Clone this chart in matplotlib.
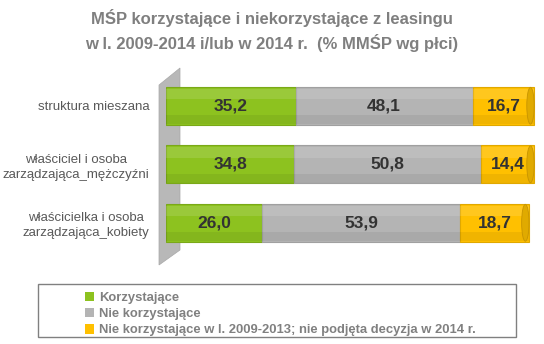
import numpy as np
import matplotlib.pyplot as plt
from matplotlib.patches import Rectangle, Polygon, Patch, Ellipse

plt.rcParams['font.family'] = ['Liberation Sans', 'DejaVu Sans']

categories = ['struktura mieszana',
              'właściciel i osoba\nzarządzająca_mężczyźni',
              'właścicielka i osoba\nzarządzająca_kobiety']
korzystajace = [35.2, 34.8, 26.0]
nie_korzystajace = [48.1, 50.8, 53.9]
nie_2014 = [16.7, 14.4, 18.7]
series_names = ['Korzystające', 'Nie korzystające',
                'Nie korzystające w l. 2009-2013; nie podjęta decyzja w 2014 r.']
colors = ['#8dc21f', '#b4b4b4', '#ffc000']
edges = ['#7aa818', '#a0a0a0', '#e0a800']

fig = plt.figure(figsize=(5.44, 3.44), dpi=100)
fig.patch.set_facecolor('white')

# skewed grey "wall" behind the category axis
W, H = 544, 344
wall = Polygon([[159/W, 1-265/H], [159/W, 1-85/H], [180/W, 1-68/H],
                [180/W, 1-250/H]], closed=True, transform=fig.transFigure,
               facecolor='#b8b8b8', edgecolor='#a8a8a8', linewidth=0.5, zorder=-1)
fig.patches.append(wall)

ax = fig.add_axes([166/W, 1-252/H, 370/W, 175.5/H])
ax.set_facecolor('none')
y = np.arange(len(categories))
left = np.zeros(len(categories))
data = [korzystajace, nie_korzystajace, nie_2014]
for vals, c, ec in zip(data, colors, edges):
    vals = np.array(vals)
    ax.barh(y, vals, left=left, height=0.65, color=c, edgecolor=ec, linewidth=0.8)
    # lighter top stripe / darker bottom stripe to mimic the cylinder shading
    ax.barh(y - 0.2, vals, left=left, height=0.18, color='white', alpha=0.12,
            linewidth=0)
    ax.barh(y + 0.24, vals, left=left, height=0.16, color='black', alpha=0.06,
            linewidth=0)
    for yi, l, v in zip(y, left, vals):
        ax.text(l + v / 2, yi, f'{v:.1f}'.replace('.', ','), ha='center', va='center',
                fontsize=12.5, fontweight='bold', color='#333333')
    left = left + vals

# cylinder end caps
for yi, tot in zip(y, left):
    ax.add_patch(Ellipse((tot - 1.0, yi), 2.0, 0.63, facecolor='#e0aa00',
                         edgecolor='#c79400', linewidth=0.6, zorder=3))

ax.set_xlim(0, 100.5)
ax.set_ylim(2.5, -0.5)
ax.set_yticks(y)
ax.set_yticklabels(categories, fontsize=9.5, color='#595959', linespacing=1.35,
                   multialignment='center')
ax.tick_params(axis='y', length=0, pad=12)
ax.set_xticks([])
for s in ax.spines.values():
    s.set_visible(False)

fig.text(0.5, 1-18/H, 'MŚP korzystające i niekorzystające z leasingu',
         ha='center', va='center', fontsize=12, fontweight='bold', color='#7f7f7f')
fig.text(0.5, 1-43/H, 'w l. 2009-2014 i/lub w 2014 r.  (% MMŚP wg płci)',
         ha='center', va='center', fontsize=12, fontweight='bold', color='#7f7f7f')

box = Rectangle((38/W, 1-337/H), 478/W, 53/H, transform=fig.transFigure,
                facecolor='white', edgecolor='#808080', linewidth=1)
fig.patches.append(box)
handles = [Patch(facecolor=c, edgecolor='none') for c in colors]
leg = fig.legend(handles, series_names, loc='upper left',
                 bbox_to_anchor=(78/W, 1-285/H), frameon=False,
                 handlelength=0.75, handleheight=0.75, handletextpad=0.35,
                 labelspacing=0.3, borderpad=0,
                 prop={'weight': 'bold', 'size': 9.4})
for t in leg.get_texts():
    t.set_color('#808080')

fig.savefig('out.png', dpi=100)
